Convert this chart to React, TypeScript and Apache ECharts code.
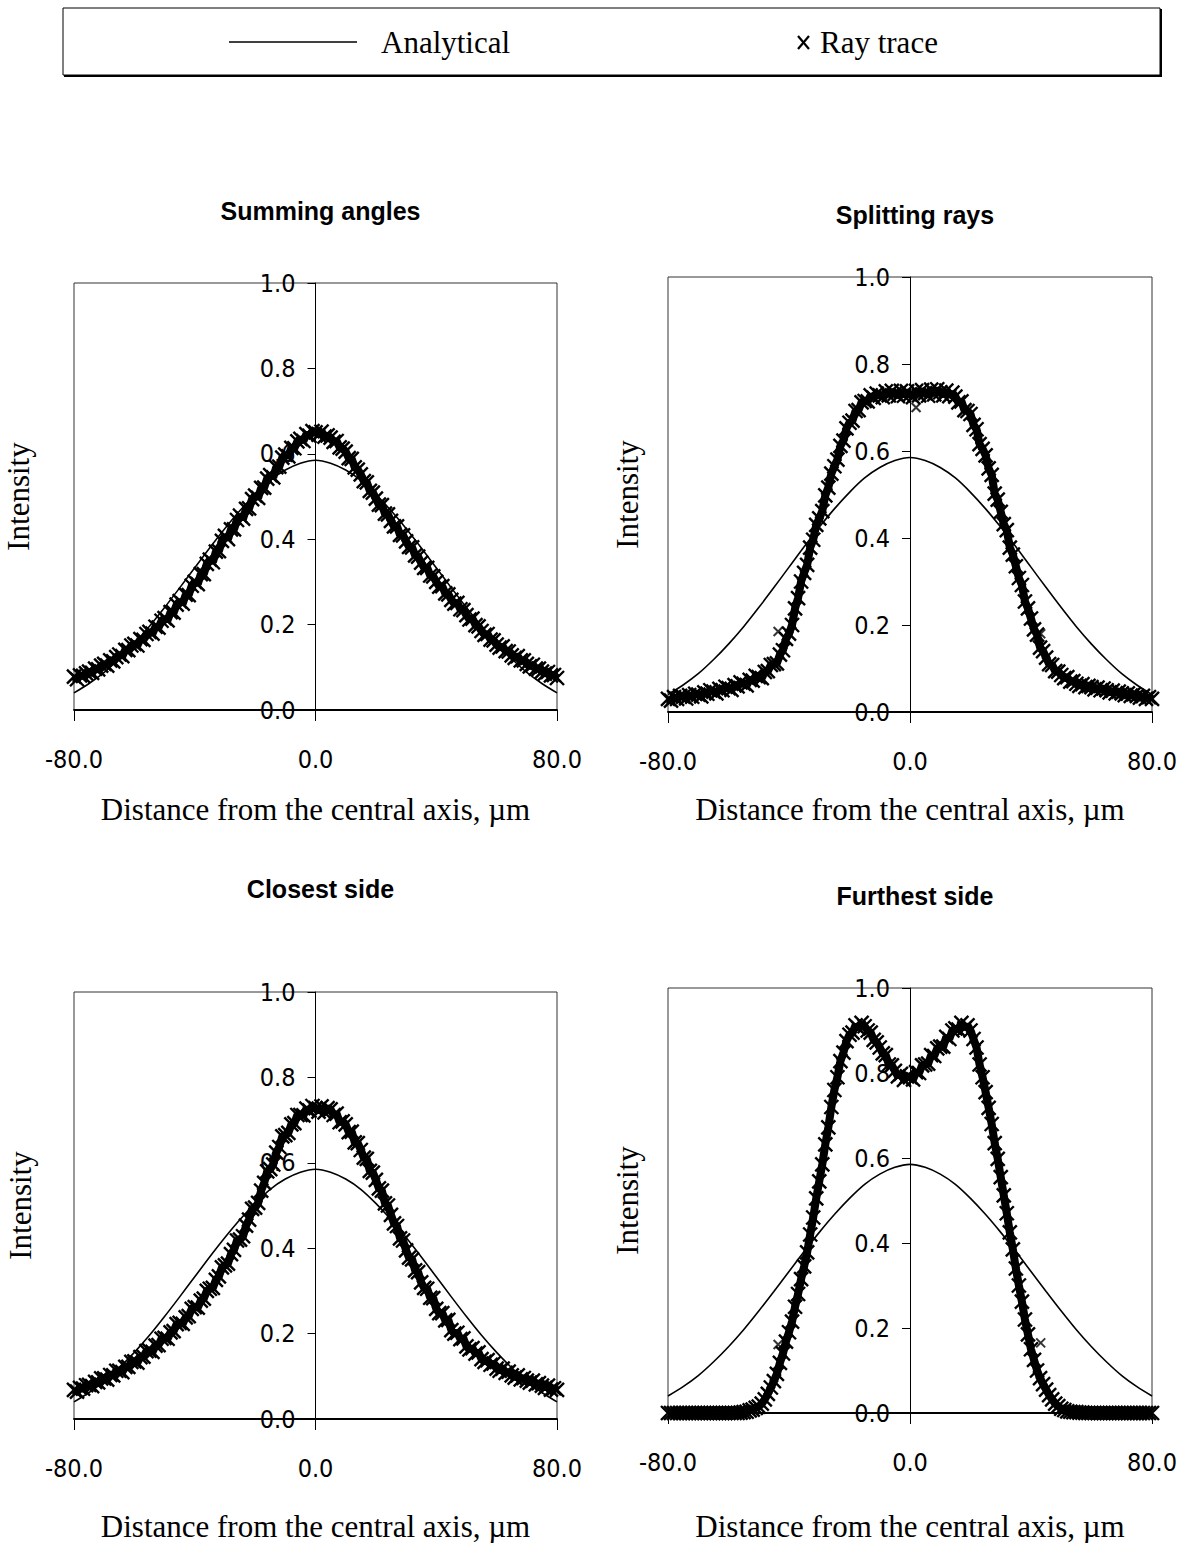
import React, { useEffect, useRef } from "react";
import * as echarts from "echarts";

// ---------- data ----------
const ANALYTICAL_X = [-80, -75, -70, -65, -60, -55, -50, -45, -40, -35, -30, -25, -20, -15, -10, -5, 0, 5, 10, 15, 20, 25, 30, 35, 40, 45, 50, 55, 60, 65, 70, 75, 80];
const ANALYTICAL = [0.040, 0.062, 0.088, 0.120, 0.156, 0.196, 0.240, 0.286, 0.333, 0.380, 0.425, 0.467, 0.505, 0.538, 0.562, 0.578, 0.585, 0.578, 0.562, 0.538, 0.505, 0.467, 0.425, 0.380, 0.333, 0.286, 0.240, 0.196, 0.156, 0.120, 0.088, 0.062, 0.040];

// ray-trace samples every 1 µm from -80 to 80
const RAY_X_START = -80;
const RAY_X_STEP = 1;

const RAY_SUMMING = [
  0.078, 0.072, 0.081, 0.080, 0.086, 0.090, 0.087, 0.097, 0.095, 0.104,
  0.108, 0.104, 0.116, 0.114, 0.124, 0.130, 0.126, 0.141, 0.140, 0.151,
  0.155, 0.151, 0.166, 0.164, 0.178, 0.183, 0.179, 0.195, 0.193, 0.209,
  0.215, 0.210, 0.229, 0.228, 0.247, 0.255, 0.249, 0.270, 0.269, 0.291,
  0.300, 0.295, 0.318, 0.318, 0.342, 0.352, 0.346, 0.371, 0.372, 0.396,
  0.408, 0.400, 0.423, 0.423, 0.445, 0.455, 0.448, 0.471, 0.472, 0.494,
  0.502, 0.497, 0.520, 0.521, 0.542, 0.550, 0.545, 0.569, 0.570, 0.591,
  0.598, 0.594, 0.614, 0.613, 0.629, 0.635, 0.630, 0.646, 0.642, 0.653,
  0.650, 0.645, 0.652, 0.640, 0.643, 0.638, 0.628, 0.630, 0.615, 0.612,
  0.605, 0.590, 0.588, 0.568, 0.563, 0.552, 0.536, 0.533, 0.513, 0.509,
  0.495, 0.481, 0.480, 0.460, 0.458, 0.443, 0.430, 0.430, 0.410, 0.409,
  0.395, 0.382, 0.381, 0.362, 0.359, 0.345, 0.333, 0.333, 0.315, 0.313,
  0.300, 0.289, 0.290, 0.273, 0.271, 0.258, 0.249, 0.251, 0.236, 0.234,
  0.222, 0.212, 0.214, 0.199, 0.196, 0.185, 0.176, 0.178, 0.165, 0.163,
  0.153, 0.146, 0.149, 0.138, 0.137, 0.128, 0.122, 0.126, 0.116, 0.116,
  0.108, 0.102, 0.106, 0.097, 0.097, 0.090, 0.085, 0.089, 0.081, 0.082,
  0.075
];

const RAY_SPLITTING = [
  0.030, 0.026, 0.034, 0.030, 0.037, 0.035, 0.031, 0.039, 0.035, 0.042,
  0.040, 0.036, 0.045, 0.042, 0.050, 0.047, 0.043, 0.053, 0.050, 0.058,
  0.055, 0.051, 0.062, 0.059, 0.068, 0.065, 0.061, 0.074, 0.072, 0.083,
  0.080, 0.078, 0.092, 0.094, 0.108, 0.110, 0.112, 0.132, 0.142, 0.168,
  0.180, 0.200, 0.238, 0.262, 0.300, 0.320, 0.338, 0.378, 0.396, 0.430,
  0.445, 0.462, 0.498, 0.516, 0.548, 0.565, 0.580, 0.612, 0.624, 0.652,
  0.665, 0.670, 0.692, 0.694, 0.712, 0.715, 0.714, 0.728, 0.722, 0.732,
  0.728, 0.724, 0.737, 0.728, 0.738, 0.732, 0.726, 0.738, 0.727, 0.737,
  0.730, 0.724, 0.738, 0.728, 0.740, 0.733, 0.727, 0.741, 0.730, 0.742,
  0.735, 0.728, 0.739, 0.726, 0.734, 0.725, 0.712, 0.714, 0.694, 0.692,
  0.685, 0.660, 0.650, 0.616, 0.605, 0.590, 0.560, 0.545, 0.502, 0.488,
  0.460, 0.432, 0.418, 0.378, 0.362, 0.335, 0.308, 0.292, 0.254, 0.238,
  0.215, 0.190, 0.178, 0.148, 0.140, 0.125, 0.110, 0.108, 0.094, 0.093,
  0.085, 0.078, 0.080, 0.070, 0.071, 0.065, 0.060, 0.064, 0.057, 0.060,
  0.057, 0.052, 0.056, 0.050, 0.054, 0.050, 0.045, 0.049, 0.043, 0.047,
  0.043, 0.039, 0.043, 0.037, 0.041, 0.037, 0.033, 0.037, 0.030, 0.034,
  0.030
];
const OUTLIERS_SPLITTING: [number, number][] = [[-43.6, 0.185], [43.2, 0.18], [2, 0.70]];

const RAY_CLOSEST = [
  0.068, 0.064, 0.073, 0.071, 0.079, 0.080, 0.077, 0.087, 0.086, 0.095,
  0.095, 0.092, 0.103, 0.102, 0.113, 0.113, 0.110, 0.122, 0.122, 0.134,
  0.135, 0.132, 0.145, 0.146, 0.159, 0.160, 0.157, 0.172, 0.173, 0.188,
  0.190, 0.188, 0.203, 0.206, 0.222, 0.225, 0.223, 0.238, 0.241, 0.258,
  0.262, 0.261, 0.277, 0.282, 0.300, 0.305, 0.307, 0.326, 0.334, 0.355,
  0.360, 0.364, 0.386, 0.396, 0.418, 0.420, 0.428, 0.453, 0.467, 0.492,
  0.495, 0.506, 0.535, 0.553, 0.580, 0.585, 0.596, 0.624, 0.637, 0.662,
  0.665, 0.670, 0.690, 0.693, 0.712, 0.712, 0.711, 0.727, 0.722, 0.733,
  0.728, 0.720, 0.732, 0.718, 0.728, 0.725, 0.712, 0.715, 0.695, 0.697,
  0.690, 0.672, 0.673, 0.648, 0.646, 0.630, 0.612, 0.609, 0.581, 0.577,
  0.560, 0.540, 0.535, 0.505, 0.500, 0.478, 0.458, 0.452, 0.423, 0.418,
  0.395, 0.378, 0.374, 0.348, 0.344, 0.320, 0.307, 0.305, 0.284, 0.283,
  0.258, 0.248, 0.248, 0.231, 0.232, 0.208, 0.200, 0.202, 0.187, 0.189,
  0.170, 0.163, 0.166, 0.153, 0.156, 0.140, 0.134, 0.138, 0.127, 0.130,
  0.118, 0.113, 0.118, 0.108, 0.111, 0.102, 0.097, 0.102, 0.093, 0.096,
  0.090, 0.085, 0.090, 0.081, 0.084, 0.078, 0.073, 0.078, 0.069, 0.072,
  0.068
];

const RAY_FURTHEST = [
  0, 0, 0, 0, 0, 0, 0, 0, 0, 0,
  0, 0, 0, 0, 0, 0, 0, 0, 0, 0,
  0, 0, 0, 0, 0.001, 0.002, 0.003, 0.006, 0.008, 0.012,
  0.015, 0.022, 0.032, 0.045, 0.060, 0.075, 0.092, 0.118, 0.140, 0.168,
  0.190, 0.215, 0.250, 0.280, 0.315, 0.345, 0.378, 0.420, 0.460, 0.505,
  0.545, 0.585, 0.632, 0.672, 0.720, 0.760, 0.790, 0.828, 0.848, 0.875,
  0.890, 0.895, 0.912, 0.905, 0.918, 0.910, 0.900, 0.895, 0.878, 0.872,
  0.860, 0.846, 0.842, 0.820, 0.818, 0.805, 0.792, 0.798, 0.784, 0.792,
  0.790, 0.785, 0.802, 0.800, 0.818, 0.820, 0.822, 0.842, 0.840, 0.858,
  0.862, 0.862, 0.885, 0.880, 0.900, 0.905, 0.902, 0.918, 0.905, 0.912,
  0.900, 0.880, 0.860, 0.820, 0.790, 0.755, 0.718, 0.680, 0.635, 0.598,
  0.555, 0.512, 0.470, 0.425, 0.385, 0.340, 0.300, 0.262, 0.220, 0.185,
  0.150, 0.125, 0.100, 0.082, 0.068, 0.055, 0.042, 0.032, 0.022, 0.016,
  0.010, 0.007, 0.004, 0.003, 0.002, 0.002, 0.001, 0.001, 0, 0,
  0, 0, 0, 0, 0, 0, 0, 0, 0, 0,
  0, 0, 0, 0, 0, 0, 0, 0, 0, 0,
  0
];
const OUTLIERS_FURTHEST: [number, number][] = [[-43.6, 0.161], [43.2, 0.165]];

const PANEL_TITLES = ["Summing angles", "Splitting rays", "Closest side", "Furthest side"];
const X_TICKS = [-80, 0, 80];
const Y_TICKS = [0, 0.2, 0.4, 0.6, 0.8, 1.0];
const X_AXIS_TITLE = "Distance from the central axis, \u00b5m";
const Y_AXIS_TITLE = "Intensity";
const LEGEND_LABELS = ["Analytical", "Ray trace"];

// ---------- layout (positions only) ----------
const PANELS = [
  { ray: RAY_SUMMING, out: [] as [number, number][], grid: { left: 74, top: 283, width: 483, height: 427 }, titleY: 208, nameX: 18, nameGap: 84 },
  { ray: RAY_SPLITTING, out: OUTLIERS_SPLITTING, grid: { left: 668, top: 277, width: 484, height: 435 }, titleY: 212, nameX: 627, nameGap: 82 },
  { ray: RAY_CLOSEST, out: [] as [number, number][], grid: { left: 74, top: 992, width: 483, height: 427 }, titleY: 886, nameX: 20, nameGap: 92 },
  { ray: RAY_FURTHEST, out: OUTLIERS_FURTHEST, grid: { left: 668, top: 988, width: 484, height: 425 }, titleY: 893, nameX: 627, nameGap: 98 },
];

const NARROW = "'Liberation Sans Narrow', 'Arial Narrow', 'DejaVu Sans Condensed', sans-serif";
const SERIF = "'Liberation Serif', 'Times New Roman', serif";
const SANS = "'Liberation Sans', Arial, sans-serif";
const XMARK = "path://M0,0L10,10M10,0L0,10";

export default function App() {
  const ref = useRef<HTMLDivElement>(null);

  useEffect(() => {
    document.body.style.margin = "0";
    if (!ref.current) return;
    const chart = echarts.init(ref.current, undefined, { renderer: "svg" });

    const grids: any[] = [];
    const xAxes: any[] = [];
    const yAxes: any[] = [];
    const series: any[] = [];
    const titles: any[] = [];
    const graphics: any[] = [];

    PANELS.forEach((p, i) => {
      grids.push({ ...p.grid, show: true, borderColor: "#333", borderWidth: 1, backgroundColor: "transparent" });
      xAxes.push({
        gridIndex: i,
        type: "value",
        min: X_TICKS[0],
        max: X_TICKS[X_TICKS.length - 1],
        interval: X_TICKS[1] - X_TICKS[0],
        name: X_AXIS_TITLE,
        nameLocation: "middle",
        nameGap: p.nameGap,
        nameTextStyle: { fontFamily: SERIF, fontSize: 31, color: "#000" },
        axisLine: { show: true, lineStyle: { color: "#000", width: 1.8 } },
        axisTick: { show: true, length: 11, lineStyle: { color: "#000" } },
        axisLabel: { margin: 37, fontFamily: NARROW, fontSize: 25, color: "#000", formatter: (v: number) => v.toFixed(1) },
        splitLine: { show: false },
      });
      yAxes.push({
        gridIndex: i,
        type: "value",
        position: "left",
        offset: -p.grid.width / 2,
        min: Y_TICKS[0],
        max: Y_TICKS[Y_TICKS.length - 1],
        interval: Y_TICKS[1] - Y_TICKS[0],
        axisLine: { show: true, onZero: false, lineStyle: { color: "#000", width: 1 } },
        axisTick: { show: true, length: 8, lineStyle: { color: "#000" } },
        axisLabel: { margin: 20, fontFamily: NARROW, fontSize: 25, color: "#000", formatter: (v: number) => v.toFixed(1) },
        splitLine: { show: false },
      });
      series.push({
        name: LEGEND_LABELS[0],
        type: "line",
        xAxisIndex: i,
        yAxisIndex: i,
        data: ANALYTICAL_X.map((x, k) => [x, ANALYTICAL[k]]),
        showSymbol: false,
        smooth: 0.3,
        lineStyle: { color: "#000", width: 1.6 },
        z: 2,
      });
      const pts: [number, number][] = p.ray.map((v, k) => [RAY_X_START + k * RAY_X_STEP, v]);
      series.push({
        name: LEGEND_LABELS[1],
        type: "line",
        xAxisIndex: i,
        yAxisIndex: i,
        data: pts,
        symbol: XMARK,
        symbolSize: 14,
        showSymbol: true,
        showAllSymbol: true,
        clip: false,
        lineStyle: { color: "#000", width: 8 },
        itemStyle: { color: "#000", borderColor: "#000", borderWidth: 2.4 },
        z: 3,
      });
      if (p.out.length) {
        series.push({
          name: LEGEND_LABELS[1],
          type: "scatter",
          xAxisIndex: i,
          yAxisIndex: i,
          data: p.out,
          symbol: XMARK,
          symbolSize: 9,
          itemStyle: { color: "#000", borderColor: "#000", borderWidth: 2 },
          z: 3,
        });
      }
      titles.push({
        text: PANEL_TITLES[i],
        left: p.grid.left + p.grid.width / 2,
        top: p.titleY - 15,
        textAlign: "center",
        textStyle: { fontFamily: SANS, fontWeight: "bold", fontSize: 25, color: "#000" },
      });
      graphics.push({
        type: "text",
        x: p.nameX,
        y: p.grid.top + p.grid.height / 2,
        rotation: Math.PI / 2,
        style: { text: Y_AXIS_TITLE, fontFamily: SERIF, fontSize: 31, fill: "#000", textAlign: "center", textVerticalAlign: "middle" },
      });
    });

    // legend box
    graphics.push(
      { type: "rect", shape: { x: 63, y: 8, width: 1097, height: 67 }, style: { fill: "#fff", stroke: "#000", lineWidth: 1 }, z: 0 },
      { type: "line", shape: { x1: 64, y1: 76, x2: 1161, y2: 76 }, style: { stroke: "#000", lineWidth: 2 } },
      { type: "line", shape: { x1: 1161, y1: 9, x2: 1161, y2: 77 }, style: { stroke: "#000", lineWidth: 2 } },
      { type: "line", shape: { x1: 229, y1: 42, x2: 357, y2: 42 }, style: { stroke: "#000", lineWidth: 1.5 } },
      { type: "text", x: 381, y: 42, style: { text: LEGEND_LABELS[0], fontFamily: SERIF, fontSize: 31, fill: "#000", textVerticalAlign: "middle" } },
      { type: "line", shape: { x1: 798, y1: 36, x2: 809, y2: 49 }, style: { stroke: "#000", lineWidth: 2.2 } },
      { type: "line", shape: { x1: 809, y1: 36, x2: 798, y2: 49 }, style: { stroke: "#000", lineWidth: 2.2 } },
      { type: "text", x: 820, y: 42, style: { text: LEGEND_LABELS[1], fontFamily: SERIF, fontSize: 31, fill: "#000", textVerticalAlign: "middle" } }
    );

    chart.setOption({
      animation: false,
      backgroundColor: "#fff",
      title: titles,
      grid: grids,
      xAxis: xAxes,
      yAxis: yAxes,
      series,
      graphic: graphics,
    });

    return () => chart.dispose();
  }, []);

  return <div ref={ref} style={{ width: 1181, height: 1543 }} />;
}
